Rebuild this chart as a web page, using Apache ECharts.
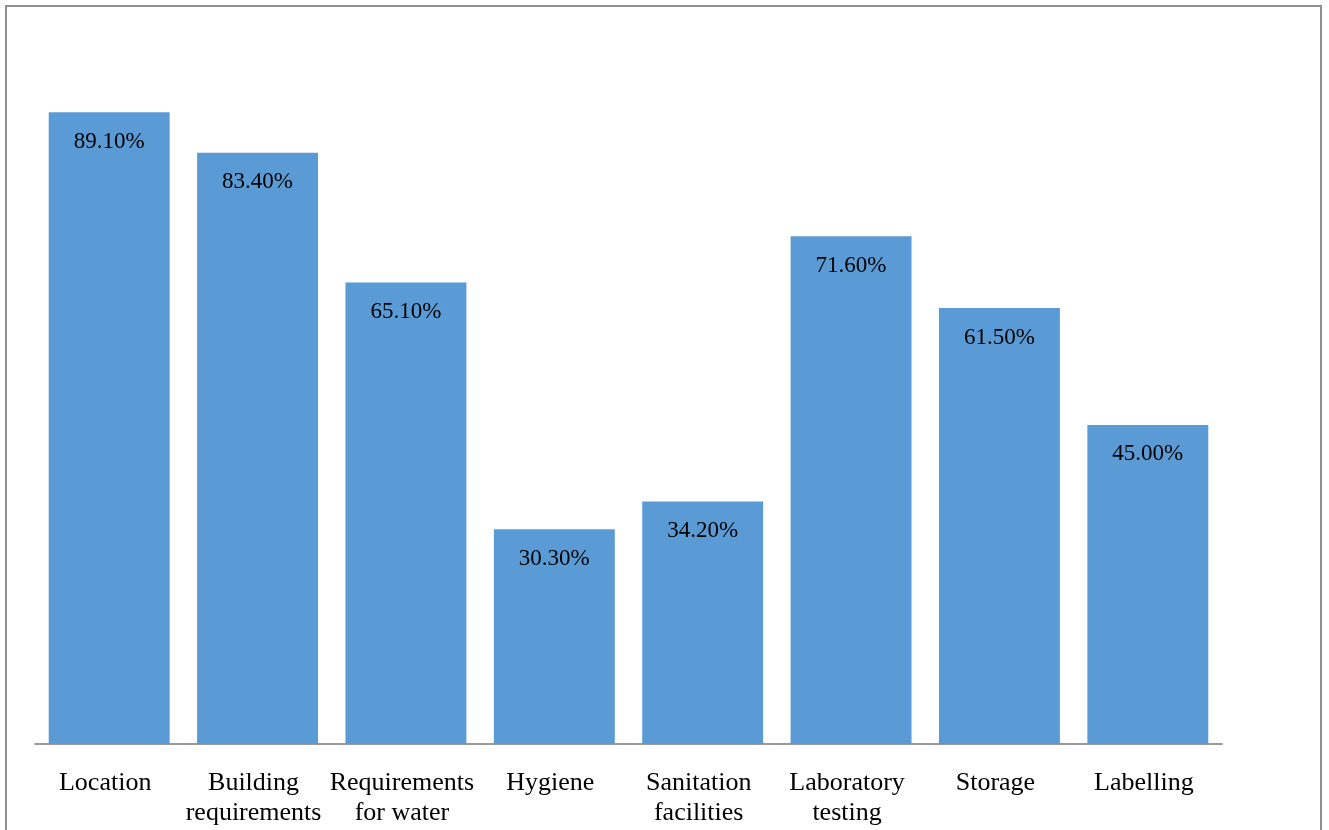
<!DOCTYPE html>
<html>
<head>
<meta charset="utf-8">
<script src="https://cdn.jsdelivr.net/npm/echarts@6/dist/echarts.min.js"></script>
<style>html,body{margin:0;padding:0;background:#fff;}#c{width:1329px;height:830px;}</style>
</head>
<body>
<div id="c"></div>
<script>
const categories = ['Location', 'Building\nrequirements', 'Requirements\nfor water', 'Hygiene', 'Sanitation\nfacilities', 'Laboratory\ntesting', 'Storage', 'Labelling'];
const values = [89.1, 83.4, 65.1, 30.3, 34.2, 71.6, 61.5, 45.0];

const chart = echarts.init(document.getElementById('c'));
chart.setOption({
  animation: false,
  backgroundColor: '#fff',
  graphic: [{
    type: 'rect',
    shape: { x: 6, y: 6, width: 1315, height: 900 },
    style: { fill: 'none', stroke: '#8f8f8f', lineWidth: 2 },
    silent: true
  }],
  grid: { left: 35, right: 107, top: 35, bottom: 86 },
  xAxis: {
    type: 'category',
    data: categories,
    axisLine: { show: true, lineStyle: { color: '#9a9a9a', width: 2 } },
    axisTick: { show: false },
    axisLabel: {
      interval: 0,
      margin: 24,
      color: '#000',
      fontFamily: 'Liberation Serif',
      fontSize: 26,
      lineHeight: 30,
      padding: [0, 8, 0, 0]
    }
  },
  yAxis: {
    type: 'value',
    min: 0,
    max: 100,
    show: false,
    splitLine: { show: false }
  },
  series: [{
    type: 'bar',
    data: values,
    barCategoryGap: '18.5%',
    itemStyle: { color: '#5B9BD5' },
    label: {
      show: true,
      position: 'insideTop',
      distance: 18,
      color: '#000',
      fontFamily: 'Liberation Serif',
      fontSize: 23,
      formatter: p => p.value.toFixed(2) + '%'
    }
  }]
});
</script>
</body>
</html>
